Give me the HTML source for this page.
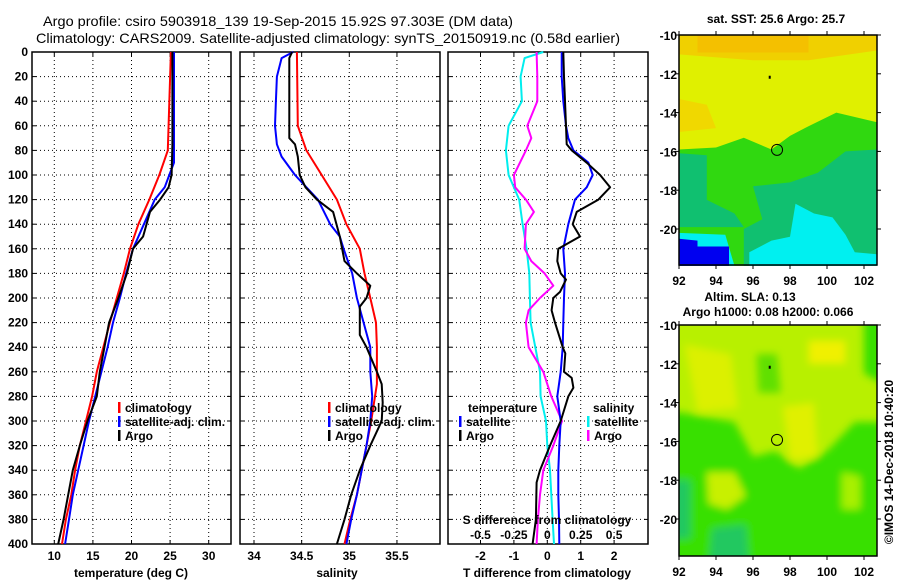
<!DOCTYPE html>
<html><head><meta charset="utf-8"><style>
html,body{margin:0;padding:0;background:#fff;}
svg{display:block;font-family:"Liberation Sans",sans-serif;}
.b{font-weight:bold;font-size:12px;}
</style></head><body>
<svg id="fig" width="900" height="580" viewBox="0 0 900 580" xmlns="http://www.w3.org/2000/svg">
<defs>
<filter id="blur" x="-10%" y="-10%" width="120%" height="120%"><feGaussianBlur stdDeviation="4"/></filter>
<clipPath id="clip2"><rect x="679" y="325" width="198" height="231"/></clipPath>
</defs>
<text x="43" y="26" font-size="14" textLength="470" lengthAdjust="spacingAndGlyphs">Argo profile: csiro 5903918_139 19-Sep-2015 15.92S 97.303E (DM data)</text>
<text x="36" y="43" font-size="14" textLength="584" lengthAdjust="spacingAndGlyphs">Climatology: CARS2009. Satellite-adjusted climatology: synTS_20150919.nc (0.58d earlier)</text>
<g id="maps"></g>
<g id="plots"></g>
</svg>
<script>
// ---- data ----
const depths = [0,20,40,60,80,100,120,140,160,180,200,220,240,260,280,300,320,340,360,380,400];
const tClimDepth = [0,80,100,120,140,160,180,200,220,260,280,300,320,340,360,380,400];
const tClim = [25.1,24.7,23.6,22.3,20.9,19.8,19.0,18.1,17.2,15.5,14.9,14.1,13.3,12.7,12.2,11.5,11.0];
const tSatDepth = [0,90,100,110,120,140,160,180,200,220,240,260,280,300,320,340,360,380,400];
const tSat = [25.5,25.5,24.9,24.3,23.0,21.6,20.2,19.3,18.5,17.6,16.9,16.1,15.3,14.5,13.8,13.1,12.4,11.9,11.4];
const tArgoDepth = [0,75,100,110,120,130,150,160,180,200,220,260,280,300,320,340,360,380,400];
const tArgo = [25.3,25.3,25.2,24.8,23.7,22.4,21.5,20.2,19.4,18.3,17.1,15.9,15.5,14.3,13.3,12.4,11.8,11.2,10.5];
const sClimDepth = [0,60,80,100,120,140,160,180,200,220,240,270,280,300,320,340,360,380,400];
const sClim = [34.45,34.46,34.55,34.71,34.87,34.97,35.11,35.16,35.22,35.28,35.29,35.29,35.27,35.23,35.18,35.13,35.08,35.01,34.95];
const sSatDepth = [0,5,20,40,60,75,85,100,110,120,140,150,160,180,200,220,240,260,280,300,320,340,360,380,400];
const sSat = [34.41,34.29,34.24,34.23,34.22,34.24,34.29,34.43,34.55,34.67,34.80,34.90,34.94,35.03,35.08,35.15,35.22,35.22,35.24,35.22,35.18,35.13,35.08,35.02,34.97];
const sArgoDepth = [0,5,70,75,85,100,110,120,130,150,170,180,190,200,207,230,240,260,270,285,300,320,340,360,380,400];
const sArgo = [34.40,34.37,34.37,34.43,34.46,34.48,34.54,34.66,34.83,34.90,34.95,35.08,35.22,35.18,35.11,35.11,35.18,35.29,35.34,35.35,35.34,35.22,35.11,35.02,34.95,34.87];
const dTSatDepth = [0,20,40,60,70,80,90,100,110,120,140,160,180,200,220,240,260,280,300,320,340,360,380,400];
const dTSat = [0.43,0.43,0.48,0.56,0.63,0.78,1.23,1.36,1.18,0.83,0.63,0.48,0.53,0.50,0.48,0.46,0.40,0.30,0.40,0.36,0.33,0.33,0.35,0.36];
const dTArgoDepth = [0,20,40,60,75,80,90,100,110,120,130,140,150,160,170,180,185,195,200,210,220,240,245,260,265,273,280,300,320,340,350,380,400];
const dTArgo = [0.48,0.50,0.53,0.56,0.58,0.73,1.18,1.58,1.88,1.53,0.88,0.76,0.98,0.33,0.30,0.40,0.56,0.38,0.18,0.13,0.23,0.46,0.54,0.50,0.73,0.78,0.63,0.40,0.08,-0.22,-0.32,-0.34,-0.44];
const dSSatDepth = [0,5,20,40,60,80,100,120,140,160,180,200,220,240,260,280,300,320,340,360,380,400];
const dSSat = [-0.03,-0.17,-0.20,-0.19,-0.29,-0.31,-0.29,-0.21,-0.185,-0.155,-0.135,-0.13,-0.125,-0.09,-0.055,-0.05,-0.01,0,0.02,0.03,0.04,0.05];
const dSArgoDepth = [0,20,40,60,70,80,100,110,120,130,140,160,170,180,190,200,210,220,240,260,280,300,320,340,360,380,400];
const dSArgo = [-0.08,-0.075,-0.075,-0.15,-0.12,-0.16,-0.25,-0.24,-0.16,-0.10,-0.16,-0.17,-0.12,-0.02,0.045,-0.055,-0.14,-0.16,-0.14,-0.03,0.03,0.11,0.045,-0.03,-0.055,-0.07,-0.08];
const tTicks = [10,15,20,25,30];
const sTicks = [34,34.5,35,35.5];
const sTickLabels = ['34','34.5','35','35.5'];
const dTTicks = [-2,-1,0,1,2];
const dSTicks = [-0.5,-0.25,0,0.25,0.5];
const dSTickLabels = ['-0.5','-0.25','0','0.25','0.5'];
const lonTicks = [92,94,96,98,100,102];
const latTicks = [-10,-12,-14,-16,-18,-20];

const NS='http://www.w3.org/2000/svg';
function mk(tag,attrs,parent){const e=document.createElementNS(NS,tag);for(const k in attrs)e.setAttribute(k,attrs[k]);parent.appendChild(e);return e;}
const plots=document.getElementById('plots');
const maps=document.getElementById('maps');
const Y0=52,Y1=544;
const yOf=d=>Y0+(d/400)*(Y1-Y0);
const xT=t=>54.3+(t-10)*7.72;
const xS=s=>254+(s-34)*95.3;
const xDT=t=>547.3+t*33.4;
const xDS=s=>547.3+s*4*33.4;

function frame(x0,x1,name,xticks,xf){
  const g=mk('g',{},plots);
  
  
  depths.forEach(d=>{ if(d>0&&d<400){const l=mk('line',{x1:x0,x2:x1,y1:yOf(d),y2:yOf(d),stroke:'#000','stroke-dasharray':'1 3','stroke-width':1},g);
    }
    mk('line',{x1:x0,x2:x0+4,y1:yOf(d),y2:yOf(d),stroke:'#000'},g);mk('line',{x1:x1-4,x2:x1,y1:yOf(d),y2:yOf(d),stroke:'#000'},g);});
  xticks.forEach(v=>{const x=xf(v);const l=mk('line',{x1:x,x2:x,y1:Y0,y2:Y1,stroke:'#000','stroke-dasharray':'1 3'},g);
    
    mk('line',{x1:x,x2:x,y1:Y1-4,y2:Y1,stroke:'#000'},g);mk('line',{x1:x,x2:x,y1:Y0,y2:Y0+4,stroke:'#000'},g);});
  const r=mk('rect',{x:x0,y:Y0,width:x1-x0,height:Y1-Y0,fill:'none',stroke:'#000','stroke-width':1.5},g);
  
  return g;
}
function series(vals,ds,xf,color,w,name){
  const pts=vals.map((v,i)=>xf(v).toFixed(1)+','+yOf(ds[i]).toFixed(1)).join(' ');
  const p=mk('polyline',{points:pts,fill:'none',stroke:color,'stroke-width':w,'stroke-linejoin':'round'},plots);
  
  
}
function txt(x,y,s,anchor,parent,name,extra){
  const t=mk('text',Object.assign({x:x,y:y,'text-anchor':anchor||'start',class:'b'},extra||{}),parent||plots);t.textContent=s;
  
  
  return t;}

// panel 1
frame(32,231,'temperature-panel',tTicks,xT);
depths.forEach(d=>txt(28,yOf(d)+4,String(d),'end',plots,'y-tick-label'));
tTicks.forEach(v=>txt(xT(v),560,String(v),'middle',plots,'x-tick-label'));
txt(131,577,'temperature (deg C)','middle',plots,'x-axis-title');
series(tClim,tClimDepth,xT,'#f00',2,'temp-climatology-line');
series(tSat,tSatDepth,xT,'#00f',2,'temp-satellite-line');
series(tArgo,tArgoDepth,xT,'#000',2,'temp-argo-line');
// panel 2
frame(240,440,'salinity-panel',sTicks,xS);
sTicks.forEach((v,i)=>txt(xS(v),560,sTickLabels[i],'middle',plots,'x-tick-label'));
txt(337,577,'salinity','middle',plots,'x-axis-title');
series(sClim,sClimDepth,xS,'#f00',2,'sal-climatology-line');
series(sSat,sSatDepth,xS,'#00f',2,'sal-satellite-line');
series(sArgo,sArgoDepth,xS,'#000',2,'sal-argo-line');
// panel 3
frame(448,648,'difference-panel',dTTicks,xDT);
dTTicks.forEach(v=>txt(xDT(v),560,String(v),'middle',plots,'x-tick-label'));
txt(547,577,'T difference from climatology','middle',plots,'x-axis-title');
series(dSSat,dSSatDepth,xDS,'#0ee',2,'sdiff-satellite-line');
series(dSArgo,dSArgoDepth,xDS,'#f0f',2,'sdiff-argo-line');
series(dTSat,dTSatDepth,xDT,'#00f',2,'tdiff-satellite-line');
series(dTArgo,dTArgoDepth,xDT,'#000',2,'tdiff-argo-line');
txt(547,524,'S difference from climatology','middle',plots,'s-axis-title');
dSTicks.forEach((v,i)=>txt(xDS(v),539,dSTickLabels[i],'middle',plots,'s-tick-label'));

// legends
function leg(x,y,color,s,name){
  const r=mk('rect',{x:x,y:y-10,width:2.5,height:11,fill:color},plots);
  
  txt(x+7,y,s,'start',plots,name);
}
leg(118,412,'#f00','climatology','legend-climatology');
leg(118,426,'#00f','satellite-adj. clim.','legend-satellite');
leg(118,440,'#000','Argo','legend-argo');
leg(328,412,'#f00','climatology','legend-climatology');
leg(328,426,'#00f','satellite-adj. clim.','legend-satellite');
leg(328,440,'#000','Argo','legend-argo');
txt(468,412,'temperature','start',plots,'legend-header-temperature');
leg(459,426,'#00f','satellite','legend-t-satellite');
leg(459,440,'#000','Argo','legend-t-argo');
txt(593,412,'salinity','start',plots,'legend-header-salinity');
leg(587,426,'#0ee','satellite','legend-s-satellite');
leg(587,440,'#f0f','Argo','legend-s-argo');

// ---- maps ----
const MX0=679,MX1=877;
const mx=lon=>679+(lon-92)*18.5;
function mapFrame(y0,y1,name){
  const g=mk('g',{},maps);
  
  
  const my=lat=>y0+(-10-lat)*19.4;
  return {g,my,y0,y1};
}
function poly(g,pts,fill){mk('polygon',{points:pts.map(p=>p[0].toFixed(1)+','+p[1].toFixed(1)).join(' '),fill:fill},g);}
function axes(m){
  const g=m.g;
  mk('rect',{x:MX0,y:m.y0,width:MX1-MX0,height:m.y1-m.y0,fill:'none',stroke:'#000','stroke-width':1.5},g);
  lonTicks.forEach(v=>{mk('line',{x1:mx(v),x2:mx(v),y1:m.y1,y2:m.y1+4,stroke:'#000'},g);mk('line',{x1:mx(v),x2:mx(v),y1:m.y0-4,y2:m.y0,stroke:'#000'},g);
    txt(mx(v),m.y1+20,String(v),'middle',g,'map-lon-label',{'font-size':'13'});});
  latTicks.forEach(v=>{mk('line',{x1:MX0-4,x2:MX0,y1:m.my(v),y2:m.my(v),stroke:'#000'},g);mk('line',{x1:MX1,x2:MX1+4,y1:m.my(v),y2:m.my(v),stroke:'#000'},g);
    txt(MX0-2,m.my(v)+5,String(v),'end',g,'map-lat-label',{'font-size':'13'});});
  const c=mk('circle',{cx:mx(97.3),cy:m.my(-15.92),r:5.5,fill:'none',stroke:'#000','stroke-width':1},g);
  
  mk('rect',{x:mx(96.85),y:m.my(-12.1),width:2,height:3,fill:'#000'},g);
}
// top SST map
const m1=mapFrame(35,265,'sst-map');
{const g=m1.g,my=m1.my;
 mk('rect',{x:MX0,y:35,width:198,height:230,fill:'#e0f000'},g);
 poly(g,[[mx(92),35],[mx(102.7),35],[mx(102.7),my(-10.8)],[mx(99),my(-11.3)],[mx(96),my(-11.3)],[mx(92),my(-11)]],'#f0d000');
 poly(g,[[mx(93),35],[mx(99),35],[mx(99),my(-10.9)],[mx(93),my(-10.9)]],'#f4c000');
 poly(g,[[mx(92),my(-13.3)],[mx(93.5),my(-13.6)],[mx(94),my(-14.8)],[mx(92),my(-15)]],'#f0d800');
 poly(g,[[mx(92),my(-15.9)],[mx(94),my(-15.8)],[mx(95.5),my(-15.3)],[mx(97),my(-15.9)],[mx(98),my(-15.2)],[mx(99),my(-14.7)],[mx(100.5),my(-14)],[mx(102.7),my(-14.5)],[mx(102.7),my(-21.9)],[mx(92),my(-21.9)]],'#30d810');
 poly(g,[[mx(92),my(-16.1)],[mx(93.5),my(-16.2)],[mx(93.5),my(-18.5)],[mx(95),my(-19.2)],[mx(95.5),my(-19.9)],[mx(92),my(-19.9)]],'#10c070');
 poly(g,[[mx(96),my(-17.8)],[mx(98),my(-17.6)],[mx(99.5),my(-17.1)],[mx(101),my(-16)],[mx(102.7),my(-15.9)],[mx(102.7),my(-21.9)],[mx(95.5),my(-21.9)],[mx(95.5),my(-20)],[mx(96.5),my(-19.5)]],'#10c070');
 poly(g,[[mx(92),my(-20.2)],[mx(94.5),my(-20.3)],[mx(95),my(-21.9)],[mx(92),my(-21.9)]],'#00f0f0');
 poly(g,[[mx(98.3),my(-18.7)],[mx(99.3),my(-19.2)],[mx(100.3),my(-19.4)],[mx(101),my(-20.3)],[mx(101.5),my(-21.2)],[mx(102.7),my(-21.3)],[mx(102.7),my(-21.9)],[mx(95.8),my(-21.9)],[mx(95.8),my(-21.2)],[mx(97),my(-20.6)],[mx(98),my(-20.4)]],'#00f0f0');
 poly(g,[[mx(92),my(-20.5)],[mx(93),my(-20.6)],[mx(93),my(-20.9)],[mx(94.7),my(-20.9)],[mx(94.7),my(-21.9)],[mx(92),my(-21.9)]],'#0000f0');
 axes(m1);}
// bottom SLA map
const m2=mapFrame(325,556,'sla-map');
{const g=m2.g,my=m2.my;
 const f=mk('g',{'clip-path':'url(#clip2)'},g);
 mk('rect',{x:MX0,y:325,width:198,height:231,fill:'#b8f000'},f);
 const fb=mk('g',{filter:'url(#blur)'},f);
 poly(fb,[[mx(92),my(-14.5)],[mx(95),my(-15)],[mx(96),my(-16.8)],[mx(97.2),my(-16.5)],[mx(98.5),my(-17.4)],[mx(100),my(-16.5)],[mx(101.5),my(-15)],[mx(103),my(-15)],[mx(103),my(-22.5)],[mx(91.5),my(-22.5)],[mx(91.5),my(-14.5)]],'#38e000');
 poly(fb,[[mx(92.3),my(-11)],[mx(94.8),my(-11.5)],[mx(95.2),my(-14.3)],[mx(93),my(-14.5)]],'#dcf000');
 poly(fb,[[mx(97.6),my(-14.2)],[mx(99.3),my(-14)],[mx(99.5),my(-16.8)],[mx(98),my(-17)]],'#e0f000');
 poly(fb,[[mx(93.5),my(-17.6)],[mx(95),my(-17.6)],[mx(95.6),my(-18.8)],[mx(94.6),my(-19.5)],[mx(93.6),my(-19.2)]],'#c8f000');
 poly(fb,[[mx(100.8),my(-17.6)],[mx(101.8),my(-17.8)],[mx(101.8),my(-19.5)],[mx(100.8),my(-19.5)]],'#a8f000');
 poly(fb,[[mx(96.2),my(-11.5)],[mx(97.3),my(-11.5)],[mx(97.5),my(-13.5)],[mx(96.3),my(-13.5)]],'#60e000');
 poly(fb,[[mx(102),my(-9)],[mx(103),my(-9)],[mx(103),my(-13)],[mx(102),my(-12.5)]],'#38e000');
 poly(fb,[[mx(93.8),my(-20.5)],[mx(95.6),my(-20.3)],[mx(95.8),my(-22.5)],[mx(93.6),my(-22.5)]],'#20c860');
 poly(fb,[[mx(91.5),my(-18)],[mx(92.6),my(-18)],[mx(92.6),my(-21)],[mx(91.5),my(-21)]],'#20c860');
 poly(fb,[[mx(99),my(-10.8)],[mx(101),my(-10.8)],[mx(101),my(-12)],[mx(99),my(-12)]],'#f0f000');
 axes(m2);}
txt(776,23,'sat. SST: 25.6 Argo: 25.7','middle',maps,'sst-map-title',{'font-size':'13'});
txt(750,301,'Altim. SLA: 0.13','middle',maps,'sla-map-title',{'font-size':'13'});
txt(768,316,'Argo h1000: 0.08 h2000: 0.066','middle',maps,'sla-map-subtitle',{'font-size':'13'});
txt(893,462,'©IMOS 14-Dec-2018 10:40:20','middle',maps,'imos-timestamp',{'font-size':'12','font-weight':'normal',transform:'rotate(-90 893 462)'});
</script>
</body></html>
